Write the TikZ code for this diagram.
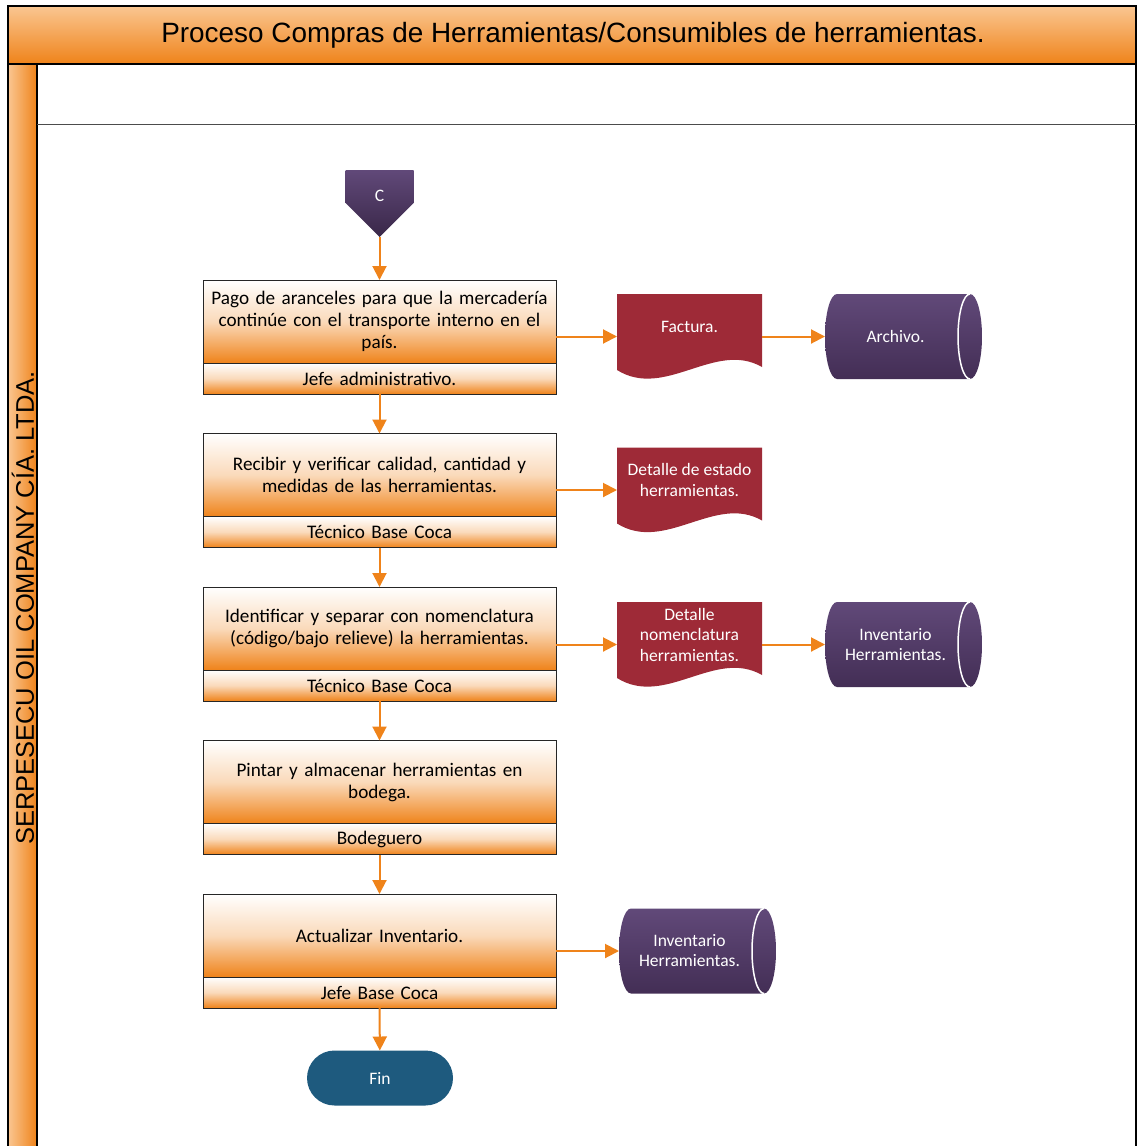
\documentclass[tikz,border=0pt]{standalone}
\usepackage{fontspec}
\setmainfont{Carlito}
\newfontfamily\arialfont{Liberation Sans}
\usetikzlibrary{arrows.meta,positioning,calc}
\definecolor{FlowOrange}{RGB}{239,131,26}
\definecolor{BandLight}{RGB}{250,198,145}
\definecolor{DocRed}{RGB}{158,42,55}
\definecolor{StoreTop}{RGB}{97,73,121}
\definecolor{StoreBot}{RGB}{67,46,85}
\definecolor{EndBlue}{RGB}{30,90,126}

\tikzset{
  task/.style={draw=black!85, line width=1pt, outer sep=0pt, top color=white, bottom color=FlowOrange, middle color=FlowOrange!30,
    minimum width=353pt, minimum height=83pt, text width=345pt, inner xsep=4pt, align=center, font=\fontsize{19.2}{22}\selectfont},
  role/.style={task, minimum height=31pt, inner ysep=0pt, font=\fontsize{19.2}{20}\selectfont},
  flow/.style={-{Triangle[length=14pt,width=14pt]}, FlowOrange, line width=2pt},
  doctext/.style={text=white, align=center, yshift=10pt, font=\fontsize{17.5}{20.5}\selectfont},
  storetext/.style={text=white, align=center, xshift=-8pt, font=\fontsize{17.5}{20}\selectfont},
  docnode/.style={minimum width=145pt, minimum height=85pt, outer sep=0pt,
    path picture={\fill[DocRed] (path picture bounding box.north west) -- (path picture bounding box.north east)
      -- ([yshift=12pt]path picture bounding box.south east)
      .. controls ([xshift=-47pt,yshift=39pt]path picture bounding box.south east) and ([xshift=48pt,yshift=-21pt]path picture bounding box.south west)
      .. ([yshift=9pt]path picture bounding box.south west) -- cycle;}},
  store/.style={minimum width=157pt, minimum height=85pt, outer sep=0pt,
    path picture={\shade[top color=StoreTop, bottom color=StoreBot] ([xshift=12pt]path picture bounding box.north west)
      -- ([xshift=-12pt]path picture bounding box.north east) arc[start angle=90, end angle=-90, x radius=12pt, y radius=42.5pt]
      -- ([xshift=12pt]path picture bounding box.south west) arc[start angle=270, end angle=90, x radius=12pt, y radius=42.5pt] -- cycle;
      \draw[white, line width=1.5pt] ([xshift=-12pt]path picture bounding box.north east) arc[start angle=90, end angle=270, x radius=12pt, y radius=42.5pt];}},
  offpage/.style={minimum width=68pt, minimum height=67pt, outer sep=0pt,
    path picture={\shade[top color=StoreTop, bottom color=StoreBot!85!black] (path picture bounding box.north west) -- (path picture bounding box.north east)
      -- ([yshift=34pt]path picture bounding box.south east) -- (path picture bounding box.south)
      -- ([yshift=34pt]path picture bounding box.south west) -- cycle;}},
  endnode/.style={fill=EndBlue, rounded corners=27.5pt, minimum width=146pt, minimum height=55pt, outer sep=0pt, text=white, font=\fontsize{17.5}{20}\selectfont}
}

\begin{document}
\begin{tikzpicture}[x=1pt, y=-1pt]
  \useasboundingbox (0,0) rectangle (1137,1146);
  \shade[top color=BandLight, bottom color=FlowOrange] (8,6) rectangle (1136,64);
  \shade[left color=BandLight, right color=FlowOrange] (8,64) rectangle (37,1146);
  \draw[line width=1.5pt] (8,1146) -- (8,6) -- (1136,6) -- (1136,1146);
  \draw[line width=1.5pt] (8,64) -- (1136,64) (37,64) -- (37,1146);
  \draw[black!70, line width=0.8pt] (37,124) -- (1136,124);
  \node[font=\arialfont\fontsize{27.9}{32}\selectfont] (titulo) at (573,35) {Proceso Compras de Herramientas/Consumibles de herramientas.};
  \node[rotate=90, font=\arialfont\fontsize{25.5}{28}\selectfont] (empresa) at (23,608) {SERPESECU OIL COMPANY CÍA. LTDA.};

  \node[offpage, label={[text=white, yshift=8pt, font=\fontsize{17.5}{20}\selectfont]center:C}] (conC) at (379.5,203.5) {};
  \node[task] (pago) at (379.5,321.5) {Pago de aranceles para que la mercadería\\continúe con el transporte interno en el\\país.};
  \node[role, below=0pt of pago] (pagoR) {Jefe administrativo.};
  \node[task, below=39.5pt of pagoR] (recibir) {Recibir y verificar calidad, cantidad y\\medidas de las herramientas.};
  \node[role, below=0pt of recibir] (recibirR) {Técnico Base Coca};
  \node[task, below=39.5pt of recibirR] (ident) {Identificar y separar con nomenclatura\\(código/bajo relieve) la herramientas.};
  \node[role, below=0pt of ident] (identR) {Técnico Base Coca};
  \node[task, below=39.5pt of identR] (pintar) {Pintar y almacenar herramientas en\\bodega.};
  \node[role, below=0pt of pintar] (pintarR) {Bodeguero};
  \node[task, below=39.5pt of pintarR] (actual) {Actualizar Inventario.};
  \node[role, below=0pt of actual] (actualR) {Jefe Base Coca};
  \node[endnode] (fin) at (380,1078) {Fin};

  \node[docnode, label={[doctext]center:Factura.}] (fact) at (689.5,336.5) {};
  \node[store, label={[storetext]center:Archivo.}] (archivo) at (903.5,336.5) {};
  \node[docnode, label={[doctext]center:{Detalle de estado\\herramientas.}}] (estado) at (689.5,490) {};
  \node[docnode, label={[doctext]center:{Detalle\\nomenclatura\\herramientas.}}] (nomen) at (689.5,644.5) {};
  \node[store, label={[storetext]center:{Inventario\\Herramientas.}}] (inv1) at (903.5,644.5) {};
  \node[store, label={[storetext]center:{Inventario\\Herramientas.}}] (inv2) at (697.5,951) {};

  \draw[flow] (conC) -- (pago);
  \draw[flow] (pagoR) -- (recibir);
  \draw[flow] (recibirR) -- (ident);
  \draw[flow] (identR) -- (pintar);
  \draw[flow] (pintarR) -- (actual);
  \draw[flow] (actualR) -- (fin);
  \draw[flow] (fact.west -| pago.east) -- (fact);
  \draw[flow] (fact) -- (archivo);
  \draw[flow] (estado.west -| recibir.east) -- (estado);
  \draw[flow] (nomen.west -| ident.east) -- (nomen);
  \draw[flow] (nomen) -- (inv1);
  \draw[flow] (inv2.west -| actual.east) -- (inv2);
\end{tikzpicture}
\end{document}
